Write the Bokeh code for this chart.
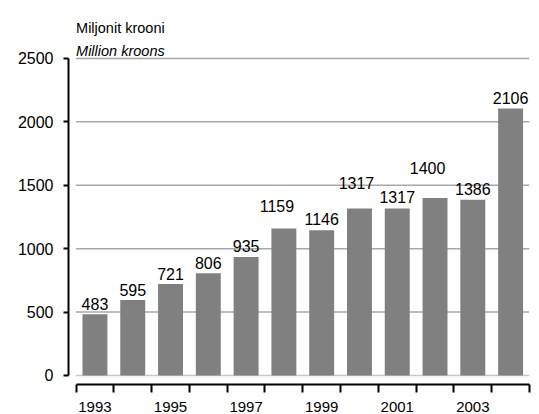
from bokeh.plotting import figure
from bokeh.models import FixedTicker, Range1d, Label
from bokeh.embed import file_html
from bokeh.resources import INLINE
from bokeh.core.properties import value

# ---- data ----
years = [1993, 1994, 1995, 1996, 1997, 1998, 1999, 2000, 2001, 2002, 2003, 2004]
values = [483, 595, 721, 806, 935, 1159, 1146, 1317, 1317, 1400, 1386, 2106]
y_ticks = [0, 500, 1000, 1500, 2000, 2500]
x_tick_labels = [1993, 1995, 1997, 1999, 2001, 2003]
title_et = "Miljonit krooni"
title_en = "Million kroons"

# label nudges (style, in pixels)
label_dx = [0, 0, 0, 0, 0, -7, 0, -3, 0, -7.5, 0, 0]
label_dy = [-10.5, -10, -10, -10, -10.5, -23, -11, -25, -11, -29.5, -10.5, -10.5]

FONT = "Liberation Sans"
BAR = "#808080"

x_lo = years[0] - 0.5
x_hi = years[-1] + 0.5

p = figure(width=539, height=414, output_backend="svg", toolbar_location=None,
           x_range=Range1d(x_lo - 0.2, x_hi), y_range=Range1d(-71, 2894),
           min_border_left=68, min_border_right=10, min_border_top=8,
           min_border_bottom=30)
p.outline_line_color = None
p.xgrid.visible = False
p.ygrid.visible = False

# grid lines (drawn from tick values)
grid_colors = ["#c8c8c8" if t == 0 else "#a8a8a8" for t in y_ticks]
p.segment(x0=[x_lo] * len(y_ticks), x1=[x_hi] * len(y_ticks), y0=y_ticks, y1=y_ticks,
          line_color=grid_colors, line_width=1.5)

p.vbar(x=years, top=values, width=0.66, fill_color=BAR, line_color=None)

p.text(x=years, y=values, text=[str(v) for v in values],
       x_offset=label_dx, y_offset=label_dy,
       text_align="center", text_baseline="alphabetic",
       text_font=value(FONT), text_font_size="16px", text_color="#000000")

# y axis
ya = p.yaxis[0]
ya.ticker = FixedTicker(ticks=y_ticks)
ya.bounds = (y_ticks[0], y_ticks[-1])
ya.axis_line_width = 2
ya.axis_line_color = "#000000"
ya.major_tick_in = 0
ya.major_tick_out = 5
ya.major_tick_line_width = 2
ya.minor_tick_line_color = None
ya.major_label_text_font = FONT
ya.major_label_text_font_size = "16px"
ya.major_label_text_color = "#000000"
ya.major_label_standoff = 10

# x axis
boundaries = [y - 0.5 for y in years] + [years[-1] + 0.5]
xa = p.xaxis[0]
xa.ticker = FixedTicker(ticks=x_tick_labels, minor_ticks=boundaries)
xa.bounds = (x_lo, x_hi)
xa.major_label_overrides = {t: str(t) for t in x_tick_labels}
xa.axis_line_width = 2
xa.axis_line_color = "#000000"
xa.major_tick_line_color = None
xa.major_tick_in = 0
xa.major_tick_out = 8
xa.minor_tick_in = 0
xa.minor_tick_out = 8
xa.minor_tick_line_width = 2
xa.minor_tick_line_color = "#000000"
xa.major_label_text_font = FONT
xa.major_label_text_font_size = "15px"
xa.major_label_text_color = "#000000"
xa.major_label_standoff = 9

# titles
p.add_layout(Label(x=x_lo, y=2737, text=title_et, text_font=FONT, text_font_size="14.5px",
                   text_baseline="alphabetic", text_align="left", text_color="#000000"))
p.add_layout(Label(x=x_lo, y=2555, text=title_en, text_font=FONT, text_font_size="14.5px",
                   text_font_style="italic", text_baseline="alphabetic", text_align="left",
                   text_color="#000000"))

open("out.html", "w").write(file_html(p, INLINE))
